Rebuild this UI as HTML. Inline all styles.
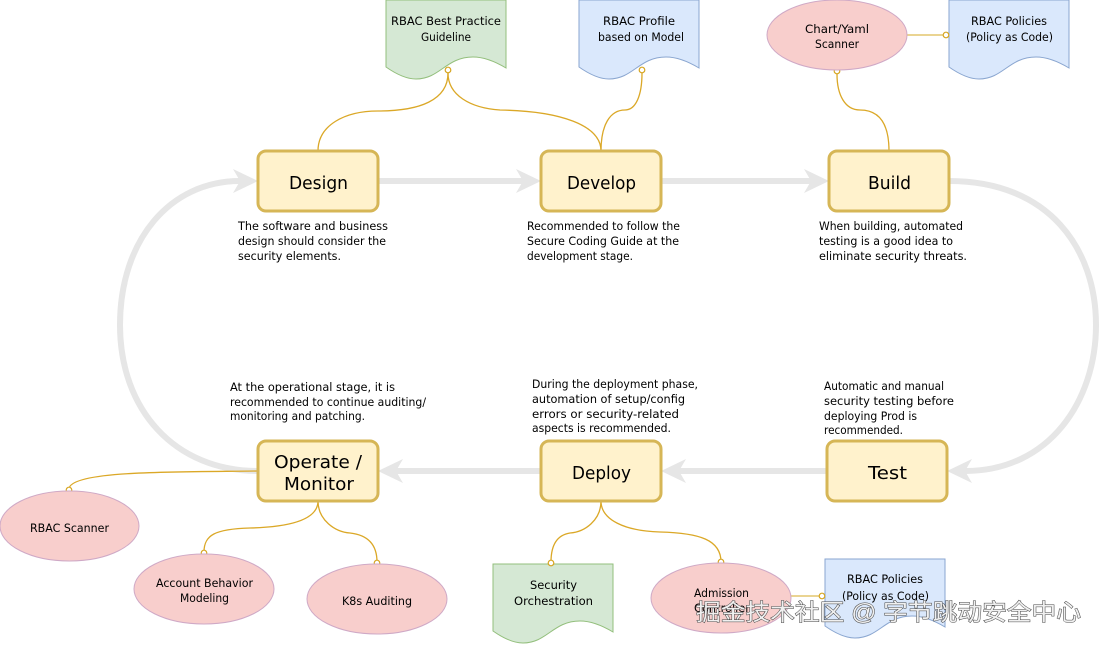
<!DOCTYPE html>
<html><head><meta charset="utf-8"><style>
html,body{margin:0;padding:0;background:#fff;width:1101px;height:645px;overflow:hidden}
svg{display:block;filter:blur(0.3px)}
text{font-family:"DejaVu Sans","Liberation Sans",sans-serif;fill:#000}
.b{font-size:18px}.t{font-size:11.5px}
.g{fill:none;stroke:#e6e6e6;stroke-width:6}
.h{fill:#e6e6e6}
.c{fill:none;stroke:#dba827;stroke-width:1.3}
.m{fill:#fff;stroke:#d6a520;stroke-width:1.2}
.box{fill:#fff2cc;stroke:#d6b656;stroke-width:3}
.e{fill:#f8cecc;stroke:#cfa9c6;stroke-width:1}
.gd{fill:#d5e8d4;stroke:#93bf7c;stroke-width:1}
.bd{fill:#dae8fc;stroke:#8aa6d0;stroke-width:1}
</style></head><body>
<svg width="1101" height="645" viewBox="0 0 1101 645" xmlns="http://www.w3.org/2000/svg">
<defs>
<path id="doc" d="M0,0 H120 V68 C110,62 99,57 87,57 C60,57 54,79 30,79 C20,79 10,74 0,67 Z"/>
</defs>

<path class="g" d="M378,181 H523"/><path class="h" d="M541,181 L516,169 L523,181 L516,193 Z"/>
<path class="g" d="M661,181 H811"/><path class="h" d="M829,181 L804,169 L811,181 L804,193 Z"/>
<path class="g" d="M949,181 C1050,181 1096,250 1096,325 C1096,400 1050,471 965,471"/><path class="h" d="M947,471 L972,459 L965,471 L972,483 Z"/>
<path class="g" d="M827,471 H679"/><path class="h" d="M661,471 L686,459 L679,471 L686,483 Z"/>
<path class="g" d="M541,471 H396"/><path class="h" d="M378,471 L403,459 L396,471 L403,483 Z"/>
<path class="g" d="M258,471 C175,471 120,410 120,325 C120,240 170,181 240,181"/><path class="h" d="M258,181 L233,169 L240,181 L233,193 Z"/>

<path class="c" d="M318,151 C318,125 345,111 378,111 C420,111 448,100 448,73"/>
<path class="c" d="M601,151 C601,125 560,111 500,110 C470,108 448,95 448,73"/>
<path class="c" d="M601,151 C601,125 610,110 625,110 C636,110 642,95 642,73"/>
<path class="c" d="M889,151 C889,125 880,110 860,110 C845,110 837,95 837,74"/>
<path class="c" d="M258,471 C180,472 70,470 69,489"/>
<path class="c" d="M318,501 C318,520 290,527 250,528 C215,529 204,535 204,552"/>
<path class="c" d="M318,501 C318,520 335,532 350,533 C368,535 377,545 377,562"/>
<path class="c" d="M601,501 C601,520 585,532 570,533 C557,535 551,545 551,562"/>
<path class="c" d="M601,501 C601,520 625,531 660,532 C700,533 721,540 721,562"/>
<path d="M907,35 H944" fill="none" stroke="#e3c56f" stroke-width="1.5"/>
<path d="M791,596 H819" fill="none" stroke="#e3c56f" stroke-width="1.5"/>

<use href="#doc" x="386" y="0" class="gd"/>
<use href="#doc" x="579" y="0" class="bd"/>
<use href="#doc" x="949" y="0" class="bd"/>
<use href="#doc" x="493" y="564" class="gd"/>
<use href="#doc" x="825" y="559" class="bd"/>

<circle class="m" cx="448" cy="70" r="2.8"/>
<circle class="m" cx="642" cy="70" r="2.8"/>
<circle class="m" cx="837" cy="71" r="2.8"/>
<circle class="m" cx="946" cy="35" r="2.8"/>
<circle class="m" cx="822" cy="596" r="2.8"/>
<circle class="m" cx="69" cy="490" r="2.8"/>
<circle class="m" cx="204" cy="553" r="2.8"/>
<circle class="m" cx="377" cy="563" r="2.8"/>
<circle class="m" cx="551" cy="563" r="2.8"/>
<circle class="m" cx="721" cy="562" r="2.8"/>
<ellipse class="e" cx="69.5" cy="526" rx="69.5" ry="35"/>
<ellipse class="e" cx="204" cy="589" rx="70" ry="35"/>
<ellipse class="e" cx="377" cy="599" rx="70" ry="35"/>
<ellipse class="e" cx="721" cy="598" rx="70" ry="35"/>
<ellipse class="e" cx="837" cy="35" rx="70" ry="35"/>

<rect class="box" x="258" y="151" width="120" height="60" rx="8"/>
<rect class="box" x="541" y="151" width="120" height="60" rx="8"/>
<rect class="box" x="829" y="151" width="120" height="60" rx="8"/>
<rect class="box" x="827" y="441" width="120" height="60" rx="8"/>
<rect class="box" x="541" y="441" width="120" height="60" rx="8"/>
<rect class="box" x="258" y="441" width="120" height="60" rx="8"/>

<g class="b">
<text x="289" y="189" textLength="59" lengthAdjust="spacingAndGlyphs">Design</text>
<text x="567" y="189" textLength="69" lengthAdjust="spacingAndGlyphs">Develop</text>
<text x="868" y="189" textLength="43" lengthAdjust="spacingAndGlyphs">Build</text>
<text x="868" y="479" textLength="39" lengthAdjust="spacingAndGlyphs">Test</text>
<text x="572" y="479" textLength="59" lengthAdjust="spacingAndGlyphs">Deploy</text>
<text x="274" y="468" textLength="88" lengthAdjust="spacingAndGlyphs">Operate /</text>
<text x="284" y="490" textLength="70" lengthAdjust="spacingAndGlyphs">Monitor</text>
</g>

<g class="t">
<text x="238" y="230" textLength="150" lengthAdjust="spacingAndGlyphs">The software and business</text>
<text x="238" y="245" textLength="148" lengthAdjust="spacingAndGlyphs">design should consider the</text>
<text x="238" y="260" textLength="103" lengthAdjust="spacingAndGlyphs">security elements.</text>
<text x="527" y="230" textLength="153" lengthAdjust="spacingAndGlyphs">Recommended to follow the</text>
<text x="527" y="245" textLength="152" lengthAdjust="spacingAndGlyphs">Secure Coding Guide at the</text>
<text x="527" y="260" textLength="106" lengthAdjust="spacingAndGlyphs">development stage.</text>
<text x="819" y="230" textLength="144" lengthAdjust="spacingAndGlyphs">When building, automated</text>
<text x="819" y="245" textLength="134" lengthAdjust="spacingAndGlyphs">testing is a good idea to</text>
<text x="819" y="260" textLength="148" lengthAdjust="spacingAndGlyphs">eliminate security threats.</text>
<text x="230" y="391" textLength="165" lengthAdjust="spacingAndGlyphs">At the operational stage, it is</text>
<text x="230" y="406" textLength="196" lengthAdjust="spacingAndGlyphs">recommended to continue auditing/</text>
<text x="230" y="420" textLength="135" lengthAdjust="spacingAndGlyphs">monitoring and patching.</text>
<text x="532" y="388" textLength="166" lengthAdjust="spacingAndGlyphs">During the deployment phase,</text>
<text x="532" y="403" textLength="153" lengthAdjust="spacingAndGlyphs">automation of setup/config</text>
<text x="532" y="418" textLength="147" lengthAdjust="spacingAndGlyphs">errors or security-related</text>
<text x="532" y="432" textLength="139" lengthAdjust="spacingAndGlyphs">aspects is recommended.</text>
<text x="824" y="390" textLength="120" lengthAdjust="spacingAndGlyphs">Automatic and manual</text>
<text x="824" y="405" textLength="130" lengthAdjust="spacingAndGlyphs">security testing before</text>
<text x="824" y="420" textLength="93" lengthAdjust="spacingAndGlyphs">deploying Prod is</text>
<text x="824" y="434" textLength="79" lengthAdjust="spacingAndGlyphs">recommended.</text>

<text x="391" y="25" textLength="110" lengthAdjust="spacingAndGlyphs">RBAC Best Practice</text>
<text x="421" y="41" textLength="50" lengthAdjust="spacingAndGlyphs">Guideline</text>
<text x="603" y="25" textLength="72" lengthAdjust="spacingAndGlyphs">RBAC Profile</text>
<text x="598" y="41" textLength="86" lengthAdjust="spacingAndGlyphs">based on Model</text>
<text x="971" y="25" textLength="76" lengthAdjust="spacingAndGlyphs">RBAC Policies</text>
<text x="966" y="41" textLength="87" lengthAdjust="spacingAndGlyphs">(Policy as Code)</text>
<text x="805" y="33" textLength="64" lengthAdjust="spacingAndGlyphs">Chart/Yaml</text>
<text x="815" y="48" textLength="44" lengthAdjust="spacingAndGlyphs">Scanner</text>
<text x="30" y="532" textLength="79" lengthAdjust="spacingAndGlyphs">RBAC Scanner</text>
<text x="156" y="587" textLength="97" lengthAdjust="spacingAndGlyphs">Account Behavior</text>
<text x="180" y="602" textLength="49" lengthAdjust="spacingAndGlyphs">Modeling</text>
<text x="342" y="605" textLength="70" lengthAdjust="spacingAndGlyphs">K8s Auditing</text>
<text x="530" y="589" textLength="47" lengthAdjust="spacingAndGlyphs">Security</text>
<text x="514" y="605" textLength="79" lengthAdjust="spacingAndGlyphs">Orchestration</text>
<text x="694" y="597" textLength="55" lengthAdjust="spacingAndGlyphs">Admission</text>
<text x="694" y="612" textLength="56" lengthAdjust="spacingAndGlyphs">Controller</text>
<text x="847" y="583" textLength="76" lengthAdjust="spacingAndGlyphs">RBAC Policies</text>
<text x="842" y="600" textLength="87" lengthAdjust="spacingAndGlyphs">(Policy as Code)</text>
</g>

<text x="696" y="620" textLength="385" lengthAdjust="spacingAndGlyphs" style="font-family:'Liberation Sans','Noto Sans CJK SC',sans-serif;font-size:23px;fill:#f0f0f0;stroke:#444;stroke-width:1;paint-order:stroke">掘金技术社区 @ 字节跳动安全中心</text>
</svg>
</body></html>
